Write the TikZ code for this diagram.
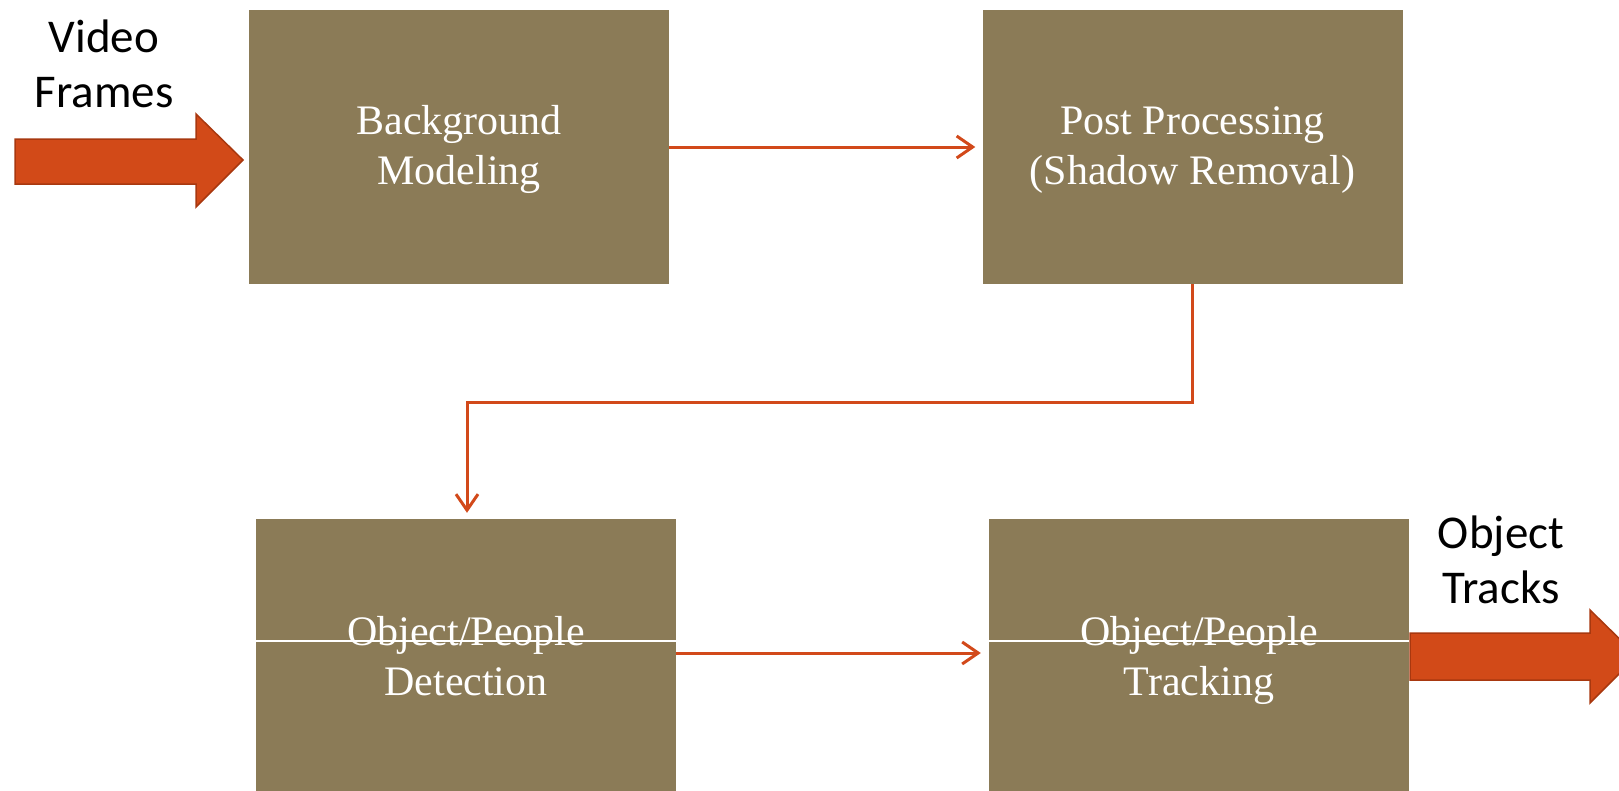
\documentclass[tikz,border=0pt]{standalone}
\usepackage{fontspec}
\setmainfont{Liberation Serif}
\newfontfamily\calibrifont{Carlito}
\usetikzlibrary{arrows.meta}
\definecolor{boxfill}{HTML}{8B7B57}
\definecolor{linkred}{HTML}{D2491A}
\definecolor{bigfill}{HTML}{D24A18}
\definecolor{bigedge}{HTML}{A8380F}
\tikzset{
  stagebox/.style={fill=boxfill, draw=none, minimum width=420pt, minimum height=274pt,
    text=white, align=center, inner sep=0pt, font=\fontsize{42}{50}\selectfont},
  stagetext/.style={text=white, align=center, inner sep=0pt, font=\fontsize{42}{50}\selectfont},
  link/.style={draw=linkred, line width=3pt, -{Straight Barb[length=16pt,width=22pt,line width=3pt]}},
  bigarrow/.style={fill=bigfill, draw=bigedge, line width=1.5pt, line join=miter},
  sidelabel/.style={align=center, inner sep=0pt, font=\calibrifont\fontsize{47}{55}\selectfont},
  divider/.style={draw=white, line width=1.5pt}
}
\begin{document}
\begin{tikzpicture}[x=1pt,y=-1pt]
\useasboundingbox (0,0) rectangle (1619,790);
\clip (0,0) rectangle (1619,790);
% boxes
\node[stagebox] (bg) at (459,147) {};
\node[stagebox] (pp) at (1192.5,147) {};
\node[stagebox] (det) at (466,656) {};
\node[stagebox] (trk) at (1199,656) {};
% white dividers
\coordinate (dl) at (0,641);
\draw[divider] (det.west |- dl) -- (det.east |- dl);
\draw[divider] (trk.west |- dl) -- (trk.east |- dl);
% box texts
\node[stagetext] (bgt) at ([yshift=-2pt]bg.center) {Background\strut\\Modeling\strut};
\node[stagetext] (ppt) at ([yshift=-2pt]pp.center) {Post Processing\strut\\(Shadow Removal)\strut};
\node[stagetext] (dett) at ([yshift=-4pt]det.center) {Object/People\strut\\Detection\strut};
\node[stagetext] (trkt) at ([yshift=-4pt]trk.center) {Object/People\strut\\Tracking\strut};
% connectors
\draw[link, shorten >=7pt] (bg.east) -- (pp.west);
\coordinate (elb) at (0,402);
\draw[link, shorten >=6pt] (pp.south) -- (pp.south |- elb) -- ([xshift=1pt]det.north |- elb) -- ([xshift=1pt]det.north);
\coordinate (a3) at (0,653);
\draw[link, shorten >=8pt] (det.east |- a3) -- (trk.west |- a3);
% big arrows
\draw[bigarrow] (15,139) -- (196,139) -- (196,114) -- (243,160) -- (196,207) -- (196,184) -- (15,184) -- cycle;
\draw[bigarrow] (1410,633) -- (1590,633) -- (1590,610) -- (1637,656) -- (1590,703) -- (1590,680) -- (1410,680) -- cycle;
% side labels
\node[sidelabel] (vf) at (104,64) {Video\\Frames};
\node[sidelabel] (ot) at (1501,560) {Object\\Tracks};
\end{tikzpicture}
\end{document}
